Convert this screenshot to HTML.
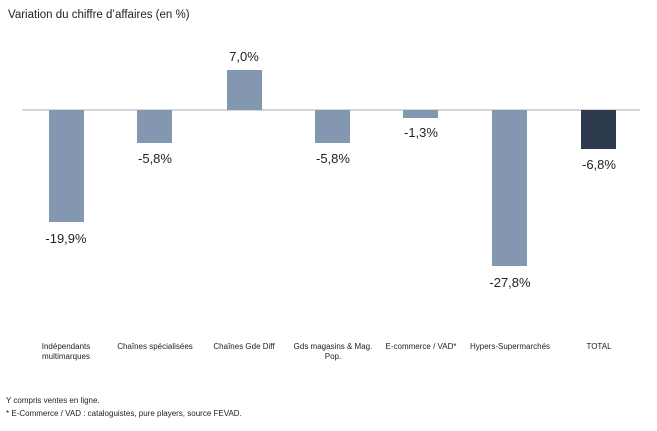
<!DOCTYPE html>
<html><head><meta charset="utf-8"><style>
body{margin:0;background:#fff;width:657px;height:426px;overflow:hidden;font-family:"Liberation Sans",sans-serif;}
</style></head><body>
<svg width="657" height="426" xmlns="http://www.w3.org/2000/svg" font-family="Liberation Sans, sans-serif">
<text x="8" y="18" font-size="11.5" fill="#222">Variation du chiffre d’affaires (en %)</text>
<line x1="22" y1="110" x2="640" y2="110" stroke="#c8c8c8" stroke-width="1.5"/>
<g fill="#8497b0">
<rect x="49" y="110" width="35" height="112"/>
<rect x="137" y="110" width="35" height="33"/>
<rect x="227" y="70" width="35" height="40"/>
<rect x="315" y="110" width="35" height="33"/>
<rect x="403" y="110" width="35" height="8"/>
<rect x="492" y="110" width="35" height="156"/>
</g>
<rect x="581" y="110" width="35" height="39" fill="#2d3a4e"/>
<g font-size="13" fill="#222" text-anchor="middle">
<text x="66" y="243">-19,9%</text>
<text x="155" y="163">-5,8%</text>
<text x="244" y="61">7,0%</text>
<text x="333" y="163">-5,8%</text>
<text x="421" y="137">-1,3%</text>
<text x="510" y="287">-27,8%</text>
<text x="599" y="169">-6,8%</text>
</g>
<g font-size="8" fill="#222" text-anchor="middle">
<text x="66" y="349">Indépendants</text>
<text x="66" y="359">multimarques</text>
<text x="155" y="349">Chaînes spécialisées</text>
<text x="244" y="349">Chaînes Gde Diff</text>
<text x="333" y="349">Gds magasins &amp; Mag.</text>
<text x="333" y="359">Pop.</text>
<text x="421" y="349">E-commerce / VAD*</text>
<text x="510" y="349">Hypers-Supermarchés</text>
<text x="599" y="349">TOTAL</text>
</g>
<g font-size="8" fill="#222">
<text x="6" y="403">Y compris ventes en ligne.</text>
<text x="6" y="416">* E-Commerce / VAD : cataloguistes, pure players, source FEVAD.</text>
</g>
</svg>
</body></html>
